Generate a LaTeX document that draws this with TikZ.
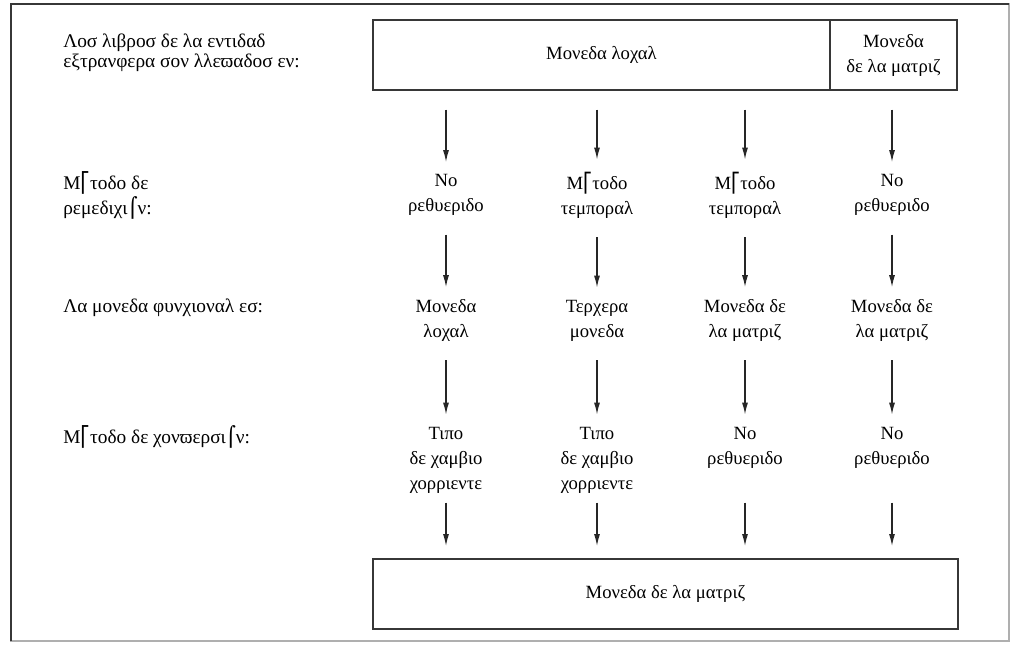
\documentclass[tikz,border=0pt]{standalone}
\usepackage{fontspec}
\setmainfont{Liberation Serif}
\newfontfamily\glyphfont{DejaVu Sans}
\usetikzlibrary{arrows.meta, positioning}
\definecolor{FrameGrey}{RGB}{175,175,175}
\definecolor{BoxGrey}{RGB}{55,55,55}
\newcommand{\ebrk}{{\glyphfont\char"23A1}}
\newcommand{\ohook}{{\glyphfont\char"2320}}

\begin{document}
\begin{tikzpicture}[x=0.75pt, y=-0.75pt,
    txt/.style={align=center, inner sep=0pt, font=\fontsize{14}{18.75}\selectfont},
    lbl/.style={align=left, anchor=west, inner sep=0pt, font=\fontsize{14.5}{18.75}\selectfont},
    box/.style={draw=BoxGrey, line width=1.4pt, inner sep=0pt, align=center, font=\fontsize{14}{18.75}\selectfont},
    arr/.style={draw=black!85, line width=1pt, -{Latex[length=9pt,width=4.5pt]}, shorten <=14pt, shorten >=9pt}]
    \useasboundingbox (0,0) rectangle (1011,644);
    % outer frame
    \draw[FrameGrey, line width=0.8pt] (11,4) rectangle (1009,641);
    \draw[BoxGrey, line width=1.5pt] (11,641) -- (11,4) -- (1009,4);

    % row labels
    \node[lbl, font=\fontsize{14.5}{15}\selectfont] (lblbooks) at (63,53) {Λοσ λιβροσ δε λα εντιδαδ\\εξτρανφερα σον λλεϖαδοσ εν:};
    \node[lbl] (lblrem)  at (63,195)   {Μ\ebrk τοδο δε\\ρεμεδιχι\ohook ν:};
    \node[lbl] (lblfun)  at (63,308)   {Λα μονεδα φυνχιοναλ εσ:};
    \node[lbl] (lblconv) at (63,437)   {Μ\ebrk τοδο δε χονϖερσι\ohook ν:};

    % top boxes
    \node[box, minimum width=342.75pt, minimum height=52.5pt] (local)  at (601.5,55) {Μονεδα λοχαλ};
    \node[box, minimum width=95.25pt,  minimum height=52.5pt] (matriz) at (893.5,55) {Μονεδα\\δε λα ματριζ};

    % remedicion
    \node[txt] (rem1) at (446,195) {Νο\\ρεθυεριδο};
    \node[txt] (rem2) at (597,195) {Μ\ebrk τοδο\\τεμποραλ};
    \node[txt] (rem3) at (745,195) {Μ\ebrk τοδο\\τεμποραλ};
    \node[txt] (rem4) at (892,195) {Νο\\ρεθυεριδο};

    % moneda funcional
    \node[txt] (fun1) at (446,320.5) {Μονεδα\\λοχαλ};
    \node[txt] (fun2) at (597,320.5) {Τερχερα\\μονεδα};
    \node[txt] (fun3) at (745,320.5) {Μονεδα δε\\λα ματριζ};
    \node[txt] (fun4) at (892,320.5) {Μονεδα δε\\λα ματριζ};

    % conversion
    \node[txt] (conv1) at (446,460)   {Τιπο\\δε χαμβιο\\χορριεντε};
    \node[txt] (conv2) at (597,460)   {Τιπο\\δε χαμβιο\\χορριεντε};
    \node[txt] (conv3) at (745,447.5) {Νο\\ρεθυεριδο};
    \node[txt] (conv4) at (892,447.5) {Νο\\ρεθυεριδο};

    % bottom box
    \node[box, minimum width=438.75pt, minimum height=52.5pt] (final) at (665.5,594) {Μονεδα δε λα ματριζ};

    \draw[arr] (rem1 |- local.south)  -- (rem1);
    \draw[arr] (rem2 |- local.south)  -- (rem2);
    \draw[arr] (rem3 |- local.south)  -- (rem3);
    \draw[arr] (rem4 |- matriz.south) -- (rem4);

    \draw[arr] (rem1) -- (fun1);
    \draw[arr] (rem2) -- (fun2);
    \draw[arr] (rem3) -- (fun3);
    \draw[arr] (rem4) -- (fun4);

    \draw[arr] (fun1) -- (conv1);
    \draw[arr] (fun2) -- (conv2);
    \draw[arr] (fun3) -- (conv3);
    \draw[arr] (fun4) -- (conv4);

    \draw[arr, shorten <=7pt] (conv1.south) -- (conv1 |- final.north);
    \draw[arr, shorten <=7pt] (conv2.south) -- (conv2 |- final.north);
    \draw[arr, shorten <=7pt] (conv3 |- conv1.south) -- (conv3 |- final.north);
    \draw[arr, shorten <=7pt] (conv4 |- conv1.south) -- (conv4 |- final.north);
\end{tikzpicture}
\end{document}
